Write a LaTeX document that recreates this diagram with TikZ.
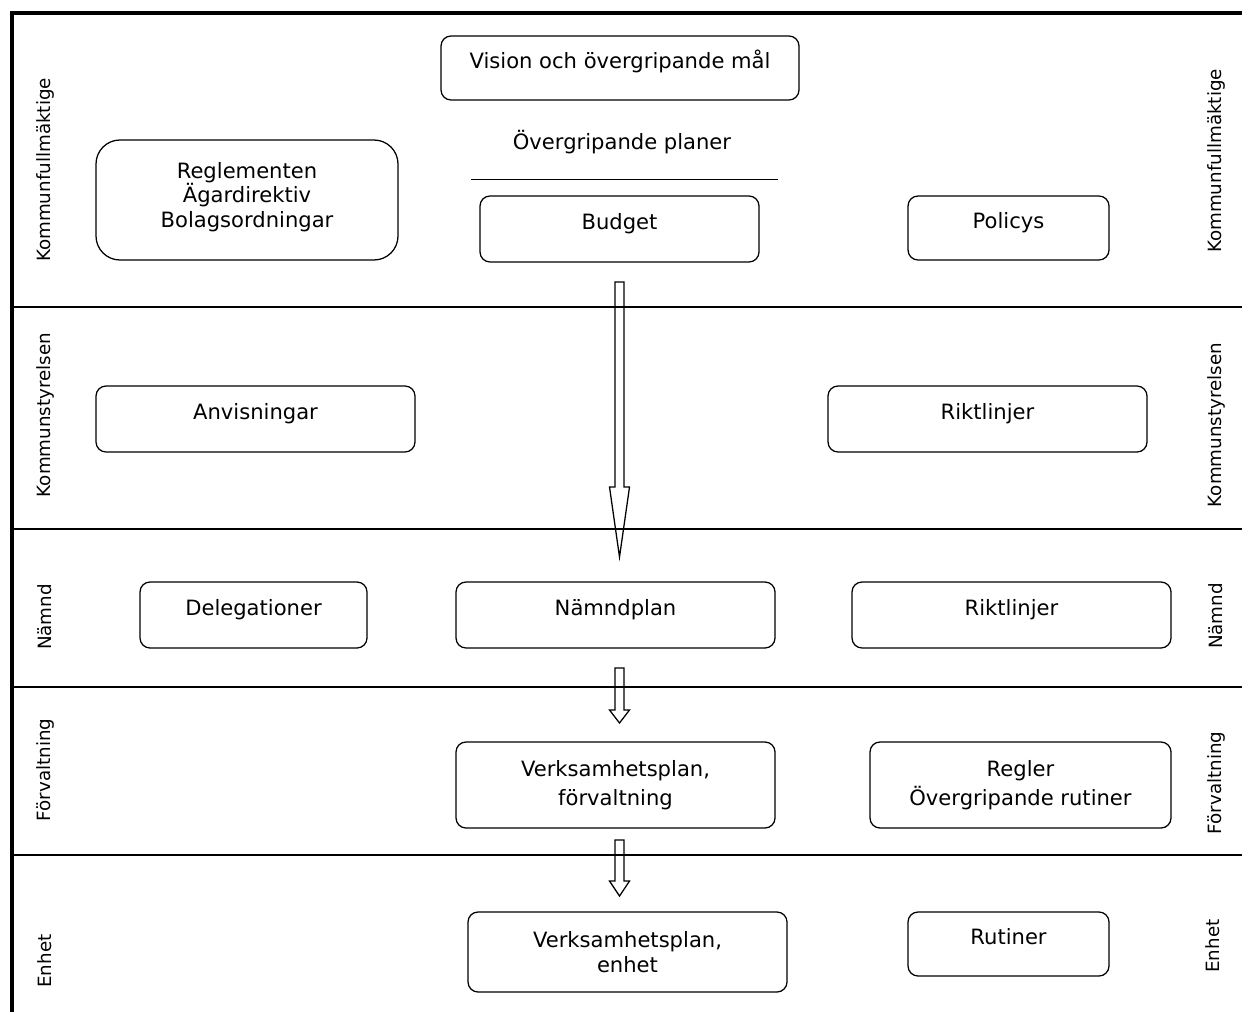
\documentclass[tikz,border=0pt]{standalone}
\usepackage{fontspec}
\setmainfont{DejaVu Sans}
\usetikzlibrary{calc,positioning}

\begin{document}
\begin{tikzpicture}[
  x=0.025cm, y=-0.025cm,
  plan box/.style={
    rectangle,
    rounded corners=0.25cm,
    fill=white!100,
    line width=0.9pt,
    draw=black,
    font=\fontsize{15}{17.5}\selectfont,
    align=center,
    inner sep=0pt,
    outer sep=0pt
  },
  box size/.style 2 args={
    minimum width=#1*0.025cm, minimum height=#2*0.025cm
  },
  one line/.style={
    text height=11pt, text depth=10.4pt
  },
  side label/.style={
    rotate=90,
    font=\fontsize{13}{15}\selectfont,
    inner sep=0pt
  },
  band line/.style={
    line width=1.1pt
  },
  block arrow/.style={
    line width=0.9pt,
    line join=miter
  }
  ]
\useasboundingbox (0,0) rectangle (1242,1012);
% Frame and bands
\draw[line width=2.2pt] (12,1012) -- (12,13) -- (1242,13);
\draw[band line] (12,307) -- (1242,307);
\draw[band line] (12,529) -- (1242,529);
\draw[band line] (12,687) -- (1242,687);
\draw[band line] (12,855) -- (1242,855);
% Side labels
\node[side label] (kf left) at (45,170) {Kommunfullmäktige};
\node[side label] (ks left) at (45,415) {Kommunstyrelsen};
\node[side label] (nd left) at (45,617) {Nämnd};
\node[side label] (fv left) at (45,770) {Förvaltning};
\node[side label] (en left) at (45,961) {Enhet};
\node[side label] (kf right) at (1216,161) {Kommunfullmäktige};
\node[side label] (ks right) at (1216,425) {Kommunstyrelsen};
\node[side label] (nd right) at (1216,616) {Nämnd};
\node[side label] (fv right) at (1216,783) {Förvaltning};
\node[side label] (en right) at (1213,946) {Enhet};
% Kommunfullmaktige
\node[plan box, one line, box size={358}{64}] (vision) at (620,68) {Vision och övergripande mål};
\node[font=\fontsize{15}{17.5}\selectfont, inner sep=0pt] (planer) at (622,142) {Övergripande planer};
\draw[line width=0.6pt] (471,179) -- (778,179);
\node[plan box, rounded corners=0.6cm, box size={302}{120}] (reglementen) at (247,200) {Reglementen\\Ägardirektiv\\Bolagsordningar\\[-10pt]~};
\node[plan box, one line, box size={279}{66}] (budget) at (619.5,229) {Budget};
\node[plan box, one line, box size={201}{64}] (policys) at (1008.5,228) {Policys};
% Kommunstyrelsen
\node[plan box, one line, box size={319}{66}] (anvisningar) at (255.5,419) {Anvisningar};
\node[plan box, one line, box size={319}{66}] (riktlinjer ks) at (987.5,419) {Riktlinjer};
% Namnd
\node[plan box, one line, box size={227}{66}] (delegationer) at (253.5,615) {Delegationer};
\node[plan box, one line, box size={319}{66}] (namndplan) at (615.5,615) {Nämndplan};
\node[plan box, one line, box size={319}{66}] (riktlinjer nd) at (1011.5,615) {Riktlinjer};
% Forvaltning
\node[plan box, box size={319}{86}] (verksamhet fv) at (615.5,785) {Verksamhetsplan,\\[3pt]förvaltning};
\node[plan box, box size={301}{86}] (regler) at (1020.5,785) {Regler\\[3pt]Övergripande rutiner};
% Enhet
\node[plan box, box size={319}{80}] (verksamhet en) at (627.5,952) {Verksamhetsplan,\\enhet};
\node[plan box, one line, box size={201}{64}] (rutiner) at (1008.5,944) {Rutiner};
% Arrows
\coordinate (budget out) at ($(budget.south)+(0,20)$);
\coordinate (namndplan in) at ($(budget.south |- namndplan.north)+(0,-25)$);
\coordinate (namndplan out) at ($(budget.south |- namndplan.south)+(0,20)$);
\coordinate (verksamhet fv in) at ($(budget.south |- verksamhet fv.north)+(0,-19)$);
\coordinate (verksamhet fv out) at ($(budget.south |- verksamhet fv.south)+(0,12)$);
\coordinate (verksamhet en in) at ($(budget.south |- verksamhet en.north)+(0,-16)$);
\draw[block arrow] ($(budget out)+(-4.5,0)$) -- ($(budget out)+(4.5,0)$) -- ($(namndplan in)+(4.5,-70)$) -- ($(namndplan in)+(10,-70)$) -- (namndplan in) -- ($(namndplan in)+(-10,-70)$) -- ($(namndplan in)+(-4.5,-70)$) -- cycle;
\draw[block arrow] ($(namndplan out)+(-4.5,0)$) -- ($(namndplan out)+(4.5,0)$) -- ($(verksamhet fv in)+(4.5,-13)$) -- ($(verksamhet fv in)+(10,-13)$) -- (verksamhet fv in) -- ($(verksamhet fv in)+(-10,-13)$) -- ($(verksamhet fv in)+(-4.5,-13)$) -- cycle;
\draw[block arrow] ($(verksamhet fv out)+(-4.5,0)$) -- ($(verksamhet fv out)+(4.5,0)$) -- ($(verksamhet en in)+(4.5,-15)$) -- ($(verksamhet en in)+(10,-15)$) -- (verksamhet en in) -- ($(verksamhet en in)+(-10,-15)$) -- ($(verksamhet en in)+(-4.5,-15)$) -- cycle;
\end{tikzpicture}
\end{document}
